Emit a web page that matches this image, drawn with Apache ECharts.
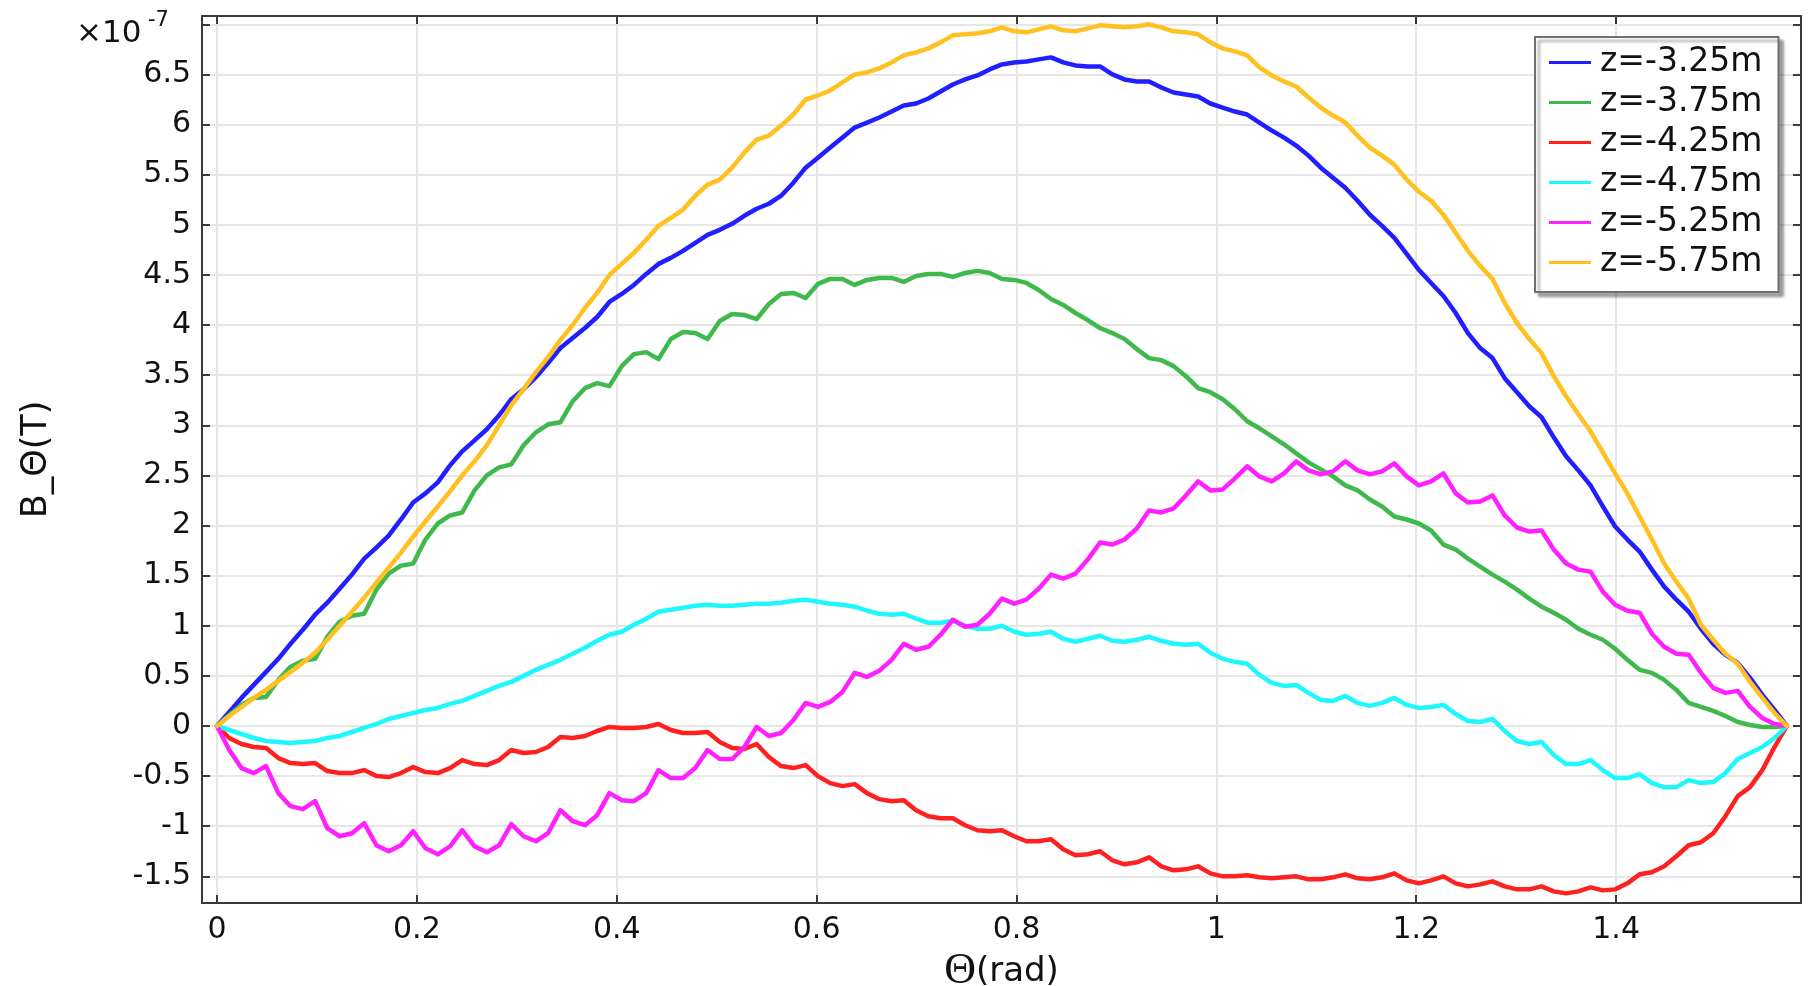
<!DOCTYPE html>
<html>
<head>
<meta charset="utf-8">
<title>B_Θ vs Θ</title>
<script src="https://cdn.jsdelivr.net/npm/echarts@6/dist/echarts.min.js"></script>
<style>
html, body { margin: 0; padding: 0; background: #fff; }
#chart { width: 1810px; height: 986px; }
</style>
</head>
<body>
<div id="chart"></div>
<script>
// angle samples (rad), step pi/256
var theta = [0, 0.0123, 0.0245, 0.0368, 0.0491, 0.0614, 0.0736, 0.0859, 0.0982, 0.1104,
    0.1227, 0.1350, 0.1473, 0.1595, 0.1718, 0.1841, 0.1963, 0.2086, 0.2209, 0.2332,
    0.2454, 0.2577, 0.2700, 0.2823, 0.2945, 0.3068, 0.3191, 0.3313, 0.3436, 0.3559,
    0.3682, 0.3804, 0.3927, 0.4050, 0.4172, 0.4295, 0.4418, 0.4541, 0.4663, 0.4786,
    0.4909, 0.5031, 0.5154, 0.5277, 0.5400, 0.5522, 0.5645, 0.5768, 0.5890, 0.6013,
    0.6136, 0.6259, 0.6381, 0.6504, 0.6627, 0.6750, 0.6872, 0.6995, 0.7118, 0.7240,
    0.7363, 0.7486, 0.7609, 0.7731, 0.7854, 0.7977, 0.8099, 0.8222, 0.8345, 0.8468,
    0.8590, 0.8713, 0.8836, 0.8959, 0.9081, 0.9204, 0.9327, 0.9449, 0.9572, 0.9695,
    0.9817, 0.9940, 1.0063, 1.0186, 1.0308, 1.0431, 1.0554, 1.0677, 1.0799, 1.0922,
    1.1045, 1.1167, 1.1290, 1.1413, 1.1536, 1.1658, 1.1781, 1.1904, 1.2026, 1.2149,
    1.2272, 1.2395, 1.2517, 1.2640, 1.2763, 1.2885, 1.3008, 1.3131, 1.3254, 1.3376,
    1.3499, 1.3622, 1.3744, 1.3867, 1.3990, 1.4113, 1.4235, 1.4358, 1.4481, 1.4603,
    1.4726, 1.4849, 1.4972, 1.5094, 1.5217, 1.5340, 1.5463, 1.5585, 1.5708];

// B_theta in units of 1e-7 T
var z325 = [0, 0.14, 0.28, 0.41, 0.54, 0.67, 0.82, 0.96, 1.11, 1.23,
    1.37, 1.51, 1.67, 1.78, 1.90, 2.06, 2.23, 2.32, 2.43, 2.60,
    2.74, 2.85, 2.96, 3.10, 3.26, 3.36, 3.48, 3.62, 3.77, 3.87,
    3.97, 4.08, 4.23, 4.31, 4.40, 4.51, 4.61, 4.67, 4.74, 4.82,
    4.90, 4.95, 5.01, 5.09, 5.16, 5.21, 5.29, 5.42, 5.57, 5.67,
    5.77, 5.87, 5.97, 6.02, 6.07, 6.13, 6.19, 6.21, 6.26, 6.33,
    6.40, 6.45, 6.49, 6.55, 6.60, 6.62, 6.63, 6.65, 6.67, 6.62,
    6.59, 6.58, 6.58, 6.50, 6.45, 6.43, 6.43, 6.37, 6.32, 6.30,
    6.28, 6.21, 6.17, 6.13, 6.10, 6.02, 5.94, 5.87, 5.79, 5.69,
    5.57, 5.47, 5.37, 5.24, 5.10, 4.99, 4.87, 4.71, 4.55, 4.42,
    4.29, 4.12, 3.92, 3.77, 3.67, 3.47, 3.33, 3.19, 3.08, 2.88,
    2.69, 2.55, 2.40, 2.19, 1.99, 1.86, 1.74, 1.56, 1.39, 1.26,
    1.14, 0.97, 0.82, 0.71, 0.63, 0.48, 0.31, 0.16, 0];
var z375 = [0, 0.11, 0.21, 0.28, 0.29, 0.46, 0.59, 0.65, 0.67, 0.89,
    1.04, 1.10, 1.12, 1.36, 1.52, 1.60, 1.62, 1.86, 2.02, 2.10,
    2.13, 2.35, 2.50, 2.58, 2.61, 2.80, 2.93, 3.01, 3.03, 3.24,
    3.37, 3.42, 3.39, 3.59, 3.71, 3.73, 3.66, 3.86, 3.93, 3.92,
    3.86, 4.04, 4.11, 4.10, 4.06, 4.21, 4.31, 4.32, 4.27, 4.41,
    4.46, 4.46, 4.40, 4.45, 4.47, 4.47, 4.43, 4.49, 4.51, 4.51,
    4.48, 4.52, 4.54, 4.52, 4.46, 4.45, 4.42, 4.35, 4.26, 4.20,
    4.12, 4.05, 3.97, 3.92, 3.86, 3.76, 3.67, 3.65, 3.59, 3.49,
    3.37, 3.33, 3.26, 3.16, 3.04, 2.97, 2.89, 2.81, 2.72, 2.63,
    2.56, 2.49, 2.40, 2.35, 2.26, 2.19, 2.09, 2.06, 2.02, 1.95,
    1.81, 1.76, 1.67, 1.59, 1.51, 1.44, 1.36, 1.27, 1.19, 1.13,
    1.06, 0.97, 0.91, 0.86, 0.77, 0.66, 0.56, 0.53, 0.46, 0.36,
    0.23, 0.19, 0.15, 0.10, 0.04, 0.01, -0.01, -0.01, 0];
var z425 = [0, -0.12, -0.18, -0.21, -0.22, -0.32, -0.37, -0.38, -0.37, -0.45,
    -0.47, -0.47, -0.44, -0.50, -0.51, -0.47, -0.41, -0.46, -0.47, -0.42,
    -0.34, -0.38, -0.39, -0.34, -0.24, -0.27, -0.26, -0.21, -0.11, -0.12,
    -0.10, -0.05, -0.01, -0.02, -0.02, -0.01, 0.02, -0.04, -0.07, -0.07,
    -0.06, -0.16, -0.22, -0.23, -0.18, -0.31, -0.40, -0.42, -0.39, -0.50,
    -0.57, -0.60, -0.58, -0.67, -0.73, -0.75, -0.74, -0.84, -0.90, -0.92,
    -0.92, -0.99, -1.04, -1.05, -1.04, -1.10, -1.15, -1.15, -1.13, -1.23,
    -1.29, -1.28, -1.25, -1.34, -1.38, -1.36, -1.31, -1.40, -1.44, -1.43,
    -1.40, -1.47, -1.50, -1.50, -1.49, -1.51, -1.52, -1.51, -1.50, -1.53,
    -1.53, -1.51, -1.48, -1.52, -1.53, -1.51, -1.47, -1.54, -1.57, -1.54,
    -1.50, -1.57, -1.60, -1.58, -1.55, -1.60, -1.63, -1.63, -1.60, -1.65,
    -1.67, -1.65, -1.61, -1.64, -1.63, -1.57, -1.48, -1.46, -1.40, -1.30,
    -1.19, -1.16, -1.07, -0.90, -0.70, -0.61, -0.44, -0.21, 0];
var z475 = [0, -0.04, -0.08, -0.12, -0.15, -0.16, -0.17, -0.16, -0.15, -0.12,
    -0.10, -0.06, -0.02, 0.02, 0.07, 0.10, 0.13, 0.16, 0.18, 0.22,
    0.25, 0.30, 0.35, 0.40, 0.44, 0.50, 0.56, 0.61, 0.66, 0.72,
    0.78, 0.85, 0.91, 0.94, 1.01, 1.07, 1.14, 1.16, 1.18, 1.20,
    1.21, 1.20, 1.20, 1.21, 1.22, 1.22, 1.23, 1.25, 1.26, 1.24,
    1.22, 1.21, 1.19, 1.15, 1.12, 1.11, 1.12, 1.07, 1.03, 1.03,
    1.05, 1.00, 0.97, 0.97, 1.00, 0.94, 0.91, 0.92, 0.94, 0.87,
    0.84, 0.87, 0.90, 0.85, 0.84, 0.86, 0.89, 0.85, 0.82, 0.81,
    0.82, 0.73, 0.67, 0.64, 0.62, 0.51, 0.43, 0.40, 0.41, 0.33,
    0.26, 0.25, 0.30, 0.23, 0.20, 0.23, 0.28, 0.21, 0.18, 0.19,
    0.21, 0.12, 0.05, 0.04, 0.07, -0.05, -0.15, -0.18, -0.16, -0.29,
    -0.38, -0.38, -0.34, -0.44, -0.52, -0.52, -0.48, -0.57, -0.61, -0.61,
    -0.54, -0.57, -0.56, -0.47, -0.33, -0.27, -0.21, -0.12, 0];
var z525 = [0, -0.24, -0.42, -0.47, -0.40, -0.67, -0.80, -0.83, -0.75, -1.02,
    -1.10, -1.07, -0.97, -1.19, -1.25, -1.19, -1.05, -1.22, -1.28, -1.20,
    -1.04, -1.20, -1.26, -1.19, -0.98, -1.10, -1.15, -1.07, -0.84, -0.95,
    -0.99, -0.89, -0.67, -0.74, -0.75, -0.67, -0.44, -0.52, -0.52, -0.42,
    -0.24, -0.33, -0.33, -0.21, -0.01, -0.10, -0.07, 0.06, 0.23, 0.19,
    0.24, 0.34, 0.53, 0.49, 0.55, 0.66, 0.82, 0.76, 0.79, 0.91,
    1.06, 0.99, 1.01, 1.12, 1.27, 1.22, 1.26, 1.37, 1.51, 1.47,
    1.52, 1.66, 1.83, 1.81, 1.86, 1.97, 2.15, 2.13, 2.17, 2.30,
    2.44, 2.35, 2.36, 2.47, 2.59, 2.49, 2.44, 2.52, 2.64, 2.55,
    2.51, 2.54, 2.64, 2.55, 2.51, 2.54, 2.62, 2.49, 2.40, 2.44,
    2.52, 2.32, 2.23, 2.24, 2.30, 2.10, 1.98, 1.94, 1.95, 1.76,
    1.62, 1.56, 1.54, 1.34, 1.21, 1.15, 1.13, 0.92, 0.79, 0.72,
    0.71, 0.53, 0.38, 0.33, 0.35, 0.19, 0.08, 0.02, 0];
var z575 = [0, 0.10, 0.19, 0.28, 0.36, 0.45, 0.54, 0.63, 0.73, 0.86,
    1.00, 1.14, 1.28, 1.43, 1.58, 1.73, 1.89, 2.04, 2.19, 2.34,
    2.50, 2.64, 2.80, 3.00, 3.20, 3.36, 3.53, 3.68, 3.85, 4.00,
    4.17, 4.32, 4.50, 4.61, 4.72, 4.85, 4.99, 5.07, 5.15, 5.29,
    5.40, 5.45, 5.57, 5.72, 5.85, 5.89, 5.99, 6.10, 6.25, 6.29,
    6.34, 6.42, 6.50, 6.52, 6.56, 6.62, 6.69, 6.72, 6.76, 6.82,
    6.89, 6.90, 6.91, 6.93, 6.97, 6.93, 6.92, 6.95, 6.98, 6.94,
    6.93, 6.96, 6.99, 6.98, 6.97, 6.98, 7.00, 6.97, 6.93, 6.92,
    6.90, 6.82, 6.76, 6.73, 6.69, 6.57, 6.49, 6.43, 6.38, 6.27,
    6.17, 6.09, 6.02, 5.89, 5.77, 5.69, 5.60, 5.45, 5.33, 5.24,
    5.10, 4.92, 4.74, 4.59, 4.46, 4.22, 4.02, 3.86, 3.72, 3.49,
    3.29, 3.11, 2.94, 2.73, 2.52, 2.32, 2.09, 1.86, 1.62, 1.44,
    1.27, 1.01, 0.86, 0.72, 0.62, 0.44, 0.28, 0.13, 0];

var seriesNames = ['z=-3.25m', 'z=-3.75m', 'z=-4.25m', 'z=-4.75m', 'z=-5.25m', 'z=-5.75m'];
var seriesValues = [z325, z375, z425, z475, z525, z575];
var seriesColors = ['#1f1fff', '#3fb84c', '#ff2020', '#1ff7ff', '#ff1fff', '#ffc020'];

// axis ranges (x in rad, y in 1e-7 T)
var xRange = [-0.015, 1.585];
var yRange = [-1.766, 7.083];
var xStep = 0.2;
var yStep = 0.5;

var chart = echarts.init(document.getElementById('chart'));

var axisColor = '#3a3a3a';
var gridColor = '#e6e6e6';
var textColor = '#111';

function onStep(v, step) {
    return Math.abs(v / step - Math.round(v / step)) < 1e-6;
}

function makeSeries(i) {
    var data = [];
    for (var k = 0; k < theta.length; k++) {
        data.push([theta[k], seriesValues[i][k]]);
    }
    return {
        name: seriesNames[i],
        type: 'line',
        data: data,
        symbol: 'none',
        showSymbol: false,
        color: seriesColors[i],
        lineStyle: { width: 4.5, color: seriesColors[i], join: 'round', cap: 'round' },
        emphasis: { disabled: true }
    };
}

var series = [];
for (var i = 0; i < seriesNames.length; i++) {
    series.push(makeSeries(i));
}

var option = {
    animation: false,
    backgroundColor: '#fff',
    textStyle: { fontFamily: 'DejaVu Sans' },
    grid: { left: 202, right: 9, top: 16, bottom: 83, containLabel: false, outerBoundsMode: 'none' },
    xAxis: [{
        type: 'value',
        min: xRange[0],
        max: xRange[1],
        splitNumber: 8,
        axisLine: { show: true, onZero: false, lineStyle: { color: axisColor, width: 2 } },
        axisTick: { show: true, inside: true, length: 8, lineStyle: { color: axisColor, width: 2 } },
        axisLabel: {
            showMinLabel: true,
            showMaxLabel: true,
            fontSize: 30,
            color: textColor,
            margin: 12,
            formatter: function (v) {
                if (!onStep(v, xStep)) return '';
                return String(+v.toFixed(1));
            }
        },
        splitLine: { show: true, lineStyle: { color: gridColor, width: 2 } },
        name: '{t|Θ}{r|(rad)}',
        nameLocation: 'middle',
        nameGap: 42,
        nameTextStyle: {
            rich: {
                t: { fontFamily: 'Liberation Serif', fontSize: 44, color: textColor },
                r: { fontFamily: 'DejaVu Sans', fontSize: 34, color: textColor }
            }
        }
    }, {
        type: 'value',
        position: 'top',
        min: xRange[0],
        max: xRange[1],
        splitNumber: 8,
        axisLine: { show: true, onZero: false, lineStyle: { color: axisColor, width: 2 } },
        axisTick: { show: true, inside: true, length: 8, lineStyle: { color: axisColor, width: 2 } },
        axisLabel: { show: false },
        splitLine: { show: false }
    }],
    yAxis: [{
        type: 'value',
        min: yRange[0],
        max: yRange[1],
        splitNumber: 18,
        axisLine: { show: true, onZero: false, lineStyle: { color: axisColor, width: 2 } },
        axisTick: { show: true, inside: true, length: 8, lineStyle: { color: axisColor, width: 2 } },
        axisLabel: {
            showMinLabel: true,
            showMaxLabel: true,
            fontSize: 30,
            color: textColor,
            margin: 11,
            formatter: function (v) {
                if (!onStep(v, yStep) || v > 6.9) return '';
                return String(+v.toFixed(1));
            }
        },
        splitLine: { show: true, lineStyle: { color: gridColor, width: 2 } },
        name: 'B_Θ(T)',
        nameLocation: 'middle',
        nameGap: 148,
        nameTextStyle: { fontSize: 35, color: textColor }
    }, {
        type: 'value',
        position: 'right',
        min: yRange[0],
        max: yRange[1],
        splitNumber: 18,
        axisLine: { show: true, onZero: false, lineStyle: { color: axisColor, width: 2 } },
        axisTick: { show: true, inside: true, length: 8, lineStyle: { color: axisColor, width: 2 } },
        axisLabel: { show: false },
        splitLine: { show: false }
    }],
    legend: {
        orient: 'vertical',
        left: 1535,
        top: 37,
        padding: [9, 16, 13, 14],
        icon: 'rect',
        itemWidth: 42,
        itemHeight: 3,
        itemGap: 7,
        backgroundColor: '#fff',
        borderColor: '#707070',
        borderWidth: 2,
        borderRadius: 0,
        shadowColor: 'rgba(0,0,0,0.35)',
        shadowBlur: 3,
        shadowOffsetX: 4,
        shadowOffsetY: 4,
        textStyle: { fontSize: 33, lineHeight: 33, color: textColor, padding: [0, 0, 0, 4] },
        data: seriesNames
    },
    graphic: [
        { type: 'text', left: 76, top: 18, style: { text: '×10', fontSize: 31, fill: textColor, fontFamily: 'DejaVu Sans' } },
        { type: 'text', left: 148, top: 10, style: { text: '-7', fontSize: 21, fill: textColor, fontFamily: 'DejaVu Sans' } }
    ],
    series: series
};

chart.setOption(option);
</script>
</body>
</html>
